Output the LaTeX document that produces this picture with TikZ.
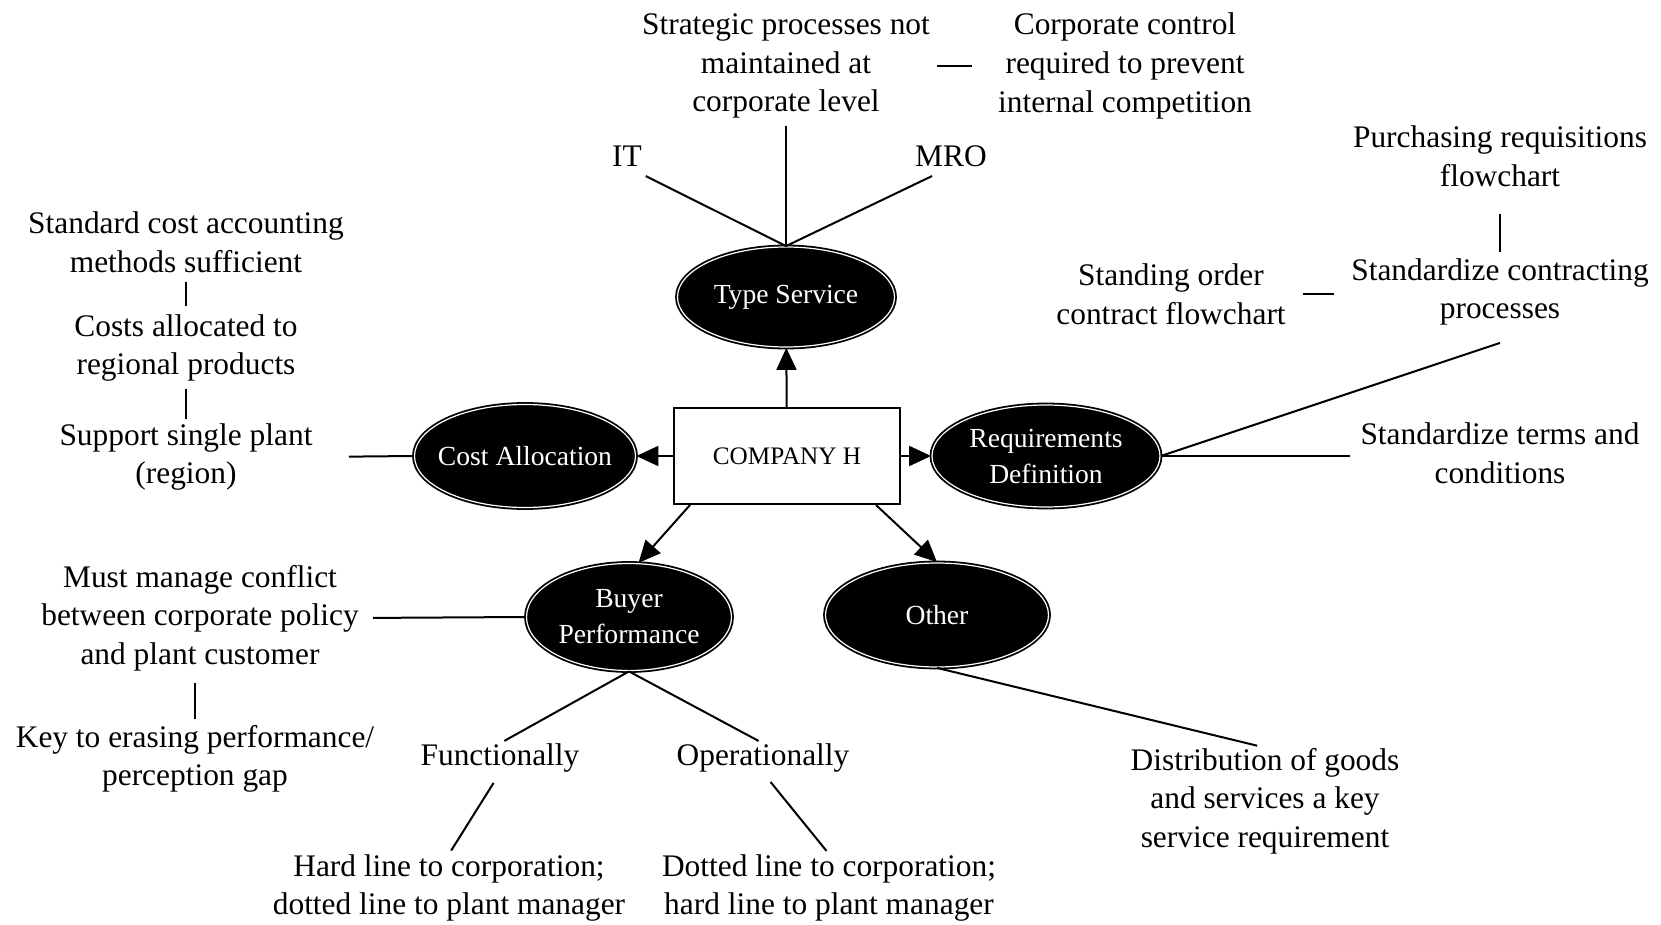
\documentclass[tikz,border=0pt]{standalone}
\usepackage{fontspec}
\setmainfont{Liberation Serif}
\usetikzlibrary{shapes.geometric,arrows.meta}
\begin{document}
\begin{tikzpicture}[x=0.5pt,y=-0.5pt,
  lbl/.style={font=\fontsize{15.7}{19.3}\selectfont, align=center, inner sep=0pt},
  topic/.style={ellipse, fill=black, draw=black, line width=0.9pt,
    double=white, double distance=0.6pt, text=white,
    font=\fontsize{13.8}{18}\selectfont, align=center,
    inner xsep=-15pt, inner ysep=-5pt},
  hub/.style={draw, line width=1pt, fill=white, minimum width=113pt,
    minimum height=48pt, font=\fontsize{12.6}{15}\selectfont, inner sep=0pt},
  link/.style={line width=1pt},
  arr/.style={line width=1pt, -{Triangle[length=11pt,width=10pt]}}
]
\useasboundingbox (0,0) rectangle (1661,925);

% centre and the five topics
\node[hub] (co) at (787,456) {COMPANY H};
\node[topic, minimum width=108.5pt, minimum height=50pt] (ts) at (786,297) {Type Service};
\node[topic, minimum width=110.5pt, minimum height=51.5pt] (ca) at (525,456) {Cost Allocation};
\node[topic, minimum width=114pt, minimum height=51pt] (rd) at (1046,456) {Requirements\\Definition};
\node[topic, minimum width=102.5pt, minimum height=53.5pt] (bp) at (629,617) {Buyer\\Performance};
\node[topic, minimum width=111.5pt, minimum height=52pt] (ot) at (937,615) {Other};

\draw[arr] (co) -- (ts);
\draw[arr] (co) -- (ca);
\draw[arr] (co) -- (rd);
\draw[arr] ([xshift=8.5pt]co.south west) -- (bp.80);
\draw[arr] ([xshift=-12.5pt]co.south east) -- (ot.north);

% Type Service branch
\node[lbl] (strat) at (786,66) {Strategic processes not\\maintained at\\corporate level};
\node[lbl] (corp) at (1125,66) {Corporate control\\required to prevent\\internal competition};
\node[lbl] (it) at (627,156) {IT};
\node[lbl] (mro) at (951,156) {MRO};
\draw[link, shorten <=3.5pt] (strat) -- (ts);
\draw[link, shorten <=10.5pt] (it.south) -- (ts.north);
\draw[link, shorten <=10.5pt] (mro.south) -- (ts.north);
\draw[link, shorten <=3.5pt, shorten >=13pt] (strat.east) -- (corp.west);

% Cost Allocation branch
\node[lbl] (std) at (186,242) {Standard cost accounting\\methods sufficient};
\node[lbl] (cost) at (186,348) {Costs allocated to\\regional products};
\node[lbl] (sup) at (186,457) {Support single plant\\(region)};
\draw[link, shorten <=4.5pt, shorten >=4pt] (std.south) -- (cost.north);
\draw[link, shorten <=3.5pt, shorten >=2pt] (cost.south) -- (sup.north);
\draw[link, shorten <=18pt] (sup.east) -- (ca.west);

% Requirements Definition branch
\node[lbl] (purch) at (1500,156) {Purchasing requisitions\\flowchart};
\node[lbl] (contr) at (1500,292) {Standardize contracting\\processes};
\node[lbl] (stand) at (1171,294) {Standing order\\contract flowchart};
\node[lbl] (terms) at (1500,453) {Standardize terms and\\conditions};
\draw[link, shorten <=13.5pt, shorten >=3pt] (purch.south) -- (contr.north);
\draw[link, shorten <=8.5pt, shorten >=8.5pt] (stand.east) -- (stand.east -| contr.west);
\draw[link] (rd.east) -- ([yshift=-8.5pt]contr.south);
\draw[link, shorten >=5pt] (rd.east) -- (rd.east -| terms.west);

% Buyer Performance branch
\node[lbl] (confl) at (200,618) {Must manage conflict\\between corporate policy\\and plant customer};
\node[lbl] (key) at (195,759) {Key to erasing performance/\\perception gap};
\node[lbl] (func) at (500,758) {Functionally};
\node[lbl] (oper) at (763,758) {Operationally};
\node[lbl] (hard) at (449,888) {Hard line to corporation;\\dotted line to plant manager};
\node[lbl] (dott) at (829,888) {Dotted line to corporation;\\hard line to plant manager};
\draw[link, shorten <=7pt] (confl.east) -- (bp.west);
\draw[link, shorten <=6pt, shorten >=3pt] (confl.south -| key.north) -- (key.north);
\draw[link, shorten >=2.5pt] (bp.south) -- (func.north);
\draw[link, shorten >=2.5pt] (bp.south) -- (oper.north);
\draw[link, shorten <=6pt, shorten >=2pt] (func.south) -- (hard.north);
\draw[link, shorten <=6pt, shorten >=2pt] (oper.south) -- (dott.north);

% Other branch
\node[lbl] (dist) at (1265,801) {Distribution of goods\\and services a key\\service requirement};
\draw[link, shorten >=4pt] (ot.south) -- (dist.north);
\end{tikzpicture}
\end{document}
